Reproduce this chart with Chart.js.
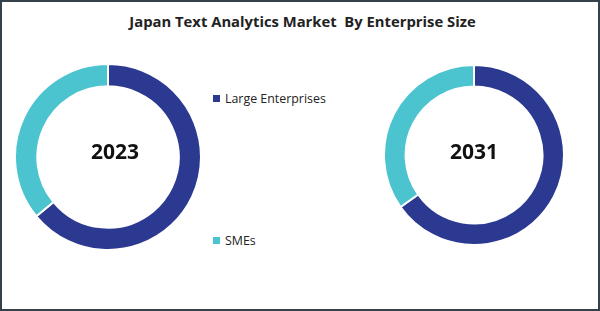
<!DOCTYPE html>
<html>
<head>
<meta charset="utf-8">
<script src="https://cdn.jsdelivr.net/npm/chart.js@4/dist/chart.umd.min.js"></script>
<style>
  html, body { margin: 0; padding: 0; background: #fff; }
  #frame { position: relative; width: 600px; height: 311px; box-sizing: border-box; border: 2px solid #34404a; overflow: hidden; font-family: "Open Sans", sans-serif; }
  #title { position: absolute; left: 0; right: 0; top: 9px; text-align: center; font-weight: bold; font-size: 14.8px; color: #222; white-space: pre; padding-left: 5px; }
  .wrap { position: absolute; }
  .leg { position: absolute; font-size: 12.4px; color: #222; white-space: nowrap; }
  .leg span.box { display: inline-block; width: 7px; height: 7px; margin-right: 5px; vertical-align: 1px; }
</style>
</head>
<body>
<div id="frame">
  <div id="title">Japan Text Analytics Market  By Enterprise Size</div>
  <div class="wrap" style="left:12px;top:61px;width:188px;height:188px;"><canvas id="c1"></canvas></div>
  <div class="wrap" style="left:381px;top:62px;width:182px;height:182px;"><canvas id="c2"></canvas></div>
  <div class="leg" id="leg0" style="left:211px;top:88px;"></div>
  <div class="leg" id="leg1" style="left:211px;top:230px;"></div>
</div>
<script>
const categories = ["Large Enterprises", "SMEs"];
const years = ["2023", "2031"];
const share2023 = [64, 36];
const share2031 = [65.2, 34.8];
const colors = ["#2B3990", "#4CC4CF"];

categories.forEach((c, i) => {
  const el = document.getElementById("leg" + i);
  el.innerHTML = '<span class="box" style="background:' + colors[i] + '"></span>' + c;
});

const centerText = {
  id: "centerText",
  afterDraw(chart) {
    const meta = chart.getDatasetMeta(0);
    const arc = meta.data[0];
    if (!arc) return;
    const o = chart.options.plugins.centerText;
    const ctx = chart.ctx;
    ctx.save();
    ctx.font = "bold 21px 'Open Sans', sans-serif";
    ctx.fillStyle = "#111";
    ctx.textAlign = "center";
    ctx.textBaseline = "middle";
    ctx.fillText(o.text, arc.x + o.dx, arc.y + o.dy);
    ctx.restore();
  }
};

function make(id, data, year, dx, dy) {
  new Chart(document.getElementById(id), {
    type: "doughnut",
    data: {
      labels: categories,
      datasets: [{ data: data, backgroundColor: colors, borderColor: "#fff", borderWidth: 2 }]
    },
    options: {
      responsive: true,
      maintainAspectRatio: false,
      animation: false,
      cutout: "76%",
      layout: { padding: 0 },
      plugins: {
        legend: { display: false },
        tooltip: { enabled: false },
        centerText: { text: year, dx: dx, dy: dy }
      }
    },
    plugins: [centerText]
  });
}
make("c1", share2023, years[0], 7, -4);
make("c2", share2031, years[1], 0, -2);
</script>
</body>
</html>
